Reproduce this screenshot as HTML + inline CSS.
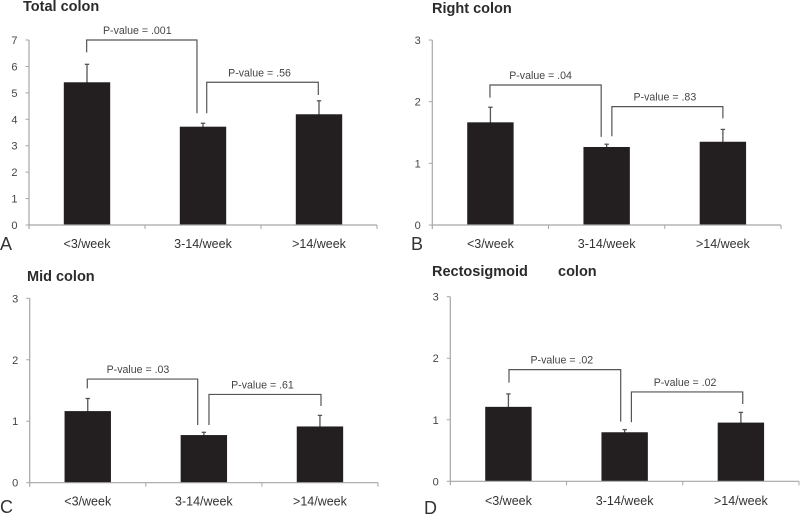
<!DOCTYPE html>
<html lang="en">
<head>
<meta charset="utf-8">
<title>Colon measures by bowel movement frequency</title>
<style>
html,body{margin:0;padding:0;background:#fff;}
svg{display:block;font-family:"Liberation Sans",Arial,sans-serif;filter:blur(0.25px);}
.title{font-size:14.5px;font-weight:bold;fill:#2b2b2b;}
.letter{font-size:18px;fill:#333;}
.tick{font-size:11px;fill:#444;}
.cat{font-size:12.5px;fill:#333;}
.p{font-size:10.6px;fill:#444;}
</style>
</head>
<body>
<svg id="chart" width="800" height="515" viewBox="0 0 800 515" xmlns="http://www.w3.org/2000/svg">
  <rect x="0" y="0" width="800" height="515" fill="#fff"/>
  <text class="title" x="23" y="11">Total colon</text>
  <text class="title" x="432" y="13">Right colon</text>
  <text class="title" x="27" y="281">Mid colon</text>
  <text class="title" x="432" y="276">Rectosigmoid</text>
  <text class="title" x="558" y="276">colon</text>
  <text class="letter" x="0" y="250">A</text>
  <text class="letter" x="411" y="250">B</text>
  <text class="letter" x="0" y="513">C</text>
  <text class="letter" x="424" y="514">D</text>
</svg>
<script>
// Shared categories
var categories = ['<3/week', '3-14/week', '>14/week'];

// Tick labels
var totalTicks = [0, 1, 2, 3, 4, 5, 6, 7];
var regionTicks = [0, 1, 2, 3];

// Bar means
var totalMeans = [5.4, 3.72, 4.19];
var rightMeans = [1.665, 1.265, 1.35];
var midMeans = [1.165, 0.775, 0.915];
var rectoMeans = [1.21, 0.797, 0.954];

// Upper error-bar values
var totalUpper = [6.08, 3.85, 4.7];
var rightUpper = [1.91, 1.31, 1.55];
var midUpper = [1.37, 0.82, 1.095];
var rectoUpper = [1.42, 0.84, 1.12];

// P-value labels
var totalPValues = ['P-value = .001', 'P-value = .56'];
var rightPValues = ['P-value = .04', 'P-value = .83'];
var midPValues = ['P-value = .03', 'P-value = .61'];
var rectoPValues = ['P-value = .02', 'P-value = .02'];

// Bracket levels in axis value units: [top, left end, right end]
var totalBracketLevels = [[7, 6.53, 4.23], [5.4, 4.23, 4.92]];
var rightBracketLevels = [[2.27, 2.065, 1.43], [1.92, 1.44, 1.73]];
var midBracketLevels = [[1.686, 1.534, 0.938], [1.436, 0.938, 1.247]];
var rectoBracketLevels = [[1.815, 1.603, 0.97], [1.452, 0.959, 1.257]];

// Bracket spans in category units: [start, end]
var totalBracketSpans = [[0.497, 1.448], [1.532, 2.494]];
var rightBracketSpans = [[0.496, 1.453], [1.545, 2.5]];
var midBracketSpans = [[0.496, 1.447], [1.544, 2.509]];
var rectoBracketSpans = [[0.505, 1.466], [1.558, 2.516]];

var SVG_NS = 'http://www.w3.org/2000/svg';
var svg = document.getElementById('chart');

function make(parent, tag, attrs, text) {
  var el = document.createElementNS(SVG_NS, tag);
  for (var k in attrs) { el.setAttribute(k, attrs[k]); }
  if (text !== undefined) { el.textContent = text; }
  parent.appendChild(el);
  return el;
}

function drawPanel(p) {
  var maxVal = p.ticks[p.ticks.length - 1];
  var catW = (p.right - p.left) / categories.length;
  function yScale(v) { return p.base - (v / maxVal) * (p.base - p.top); }
  function xScale(c) { return p.left + c * catW; }

  var g = make(svg, 'g', {});
  
  

  // Bars and error bars
  categories.forEach(function (cat, i) {
    var cx = xScale(i + 0.5);
    var errLine = make(g, 'line', { x1: cx, x2: cx, y1: yScale(p.upper[i]), y2: yScale(p.means[i]) + 1, stroke: '#555', 'stroke-width': 1.3 });
    
    
    var errCap = make(g, 'line', { x1: cx - 2.2, x2: cx + 2.2, y1: yScale(p.upper[i]), y2: yScale(p.upper[i]), stroke: '#555', 'stroke-width': 1.3 });
    
    
    var bar = make(g, 'rect', { x: cx - 23.2, y: yScale(p.means[i]), width: 46.4, height: p.base - yScale(p.means[i]), fill: '#231f20' });
    
    
  });

  // Y axis
  var yAxis = make(g, 'line', { x1: p.left, x2: p.left, y1: p.top, y2: p.base + 4, stroke: '#a6a6a6', 'stroke-width': 1.2 });
  
  

  // X axis
  var xAxis = make(g, 'line', { x1: p.left, x2: p.right, y1: p.base, y2: p.base, stroke: '#a6a6a6', 'stroke-width': 1.2 });
  
  

  // Y ticks
  p.ticks.forEach(function (t) {
    var mark = make(g, 'line', { x1: p.left - 3.5, x2: p.left, y1: yScale(t), y2: yScale(t), stroke: '#a6a6a6', 'stroke-width': 1 });
    
    
    var label = make(g, 'text', { 'class': 'tick', x: p.left - 11.5, y: yScale(t) + 4, 'text-anchor': 'end' }, String(t));
    
    
  });

  // X ticks
  for (var c = 1; c <= categories.length; c++) {
    var xMark = make(g, 'line', { x1: xScale(c), x2: xScale(c), y1: p.base, y2: p.base + 4, stroke: '#a6a6a6', 'stroke-width': 1 });
    
    
  }

  // Category labels
  categories.forEach(function (cat, i) {
    var label = make(g, 'text', { 'class': 'cat', x: xScale(i + 0.5), y: p.base + p.catDy, 'text-anchor': 'middle' }, cat);
    
    
  });

  // Significance brackets
  p.spans.forEach(function (span, i) {
    var lv = p.levels[i];
    var x1 = xScale(span[0]), x2 = xScale(span[1]);
    var d = 'M' + x1 + ' ' + yScale(lv[1]) + 'V' + yScale(lv[0]) + 'H' + x2 + 'V' + yScale(lv[2]);
    var bracket = make(g, 'path', { d: d, fill: 'none', stroke: '#555', 'stroke-width': 1.2 });
    
    
    var label = make(g, 'text', { 'class': 'p', x: (x1 + x2) / 2 + p.labelDx[i], y: yScale(lv[0]) - 6, 'text-anchor': 'middle' }, p.pValues[i]);
    
    
  });
}

drawPanel({ left: 29, right: 377, top: 40, base: 225, catDy: 23, labelDx: [-4.5, -3], ticks: totalTicks, means: totalMeans, upper: totalUpper, pValues: totalPValues, levels: totalBracketLevels, spans: totalBracketSpans });
drawPanel({ left: 432.3, right: 781, top: 40, base: 225, catDy: 23, labelDx: [-5, -2.5], ticks: regionTicks, means: rightMeans, upper: rightUpper, pValues: rightPValues, levels: rightBracketLevels, spans: rightBracketSpans });
drawPanel({ left: 29.7, right: 378, top: 298.3, base: 482.7, catDy: 23, labelDx: [-4.5, -2.5], ticks: regionTicks, means: midMeans, upper: midUpper, pValues: midPValues, levels: midBracketLevels, spans: midBracketSpans });
drawPanel({ left: 450.3, right: 799, top: 296.7, base: 481.3, catDy: 23.5, labelDx: [-3, -2], ticks: regionTicks, means: rectoMeans, upper: rectoUpper, pValues: rectoPValues, levels: rectoBracketLevels, spans: rectoBracketSpans });
</script>
</body>
</html>
